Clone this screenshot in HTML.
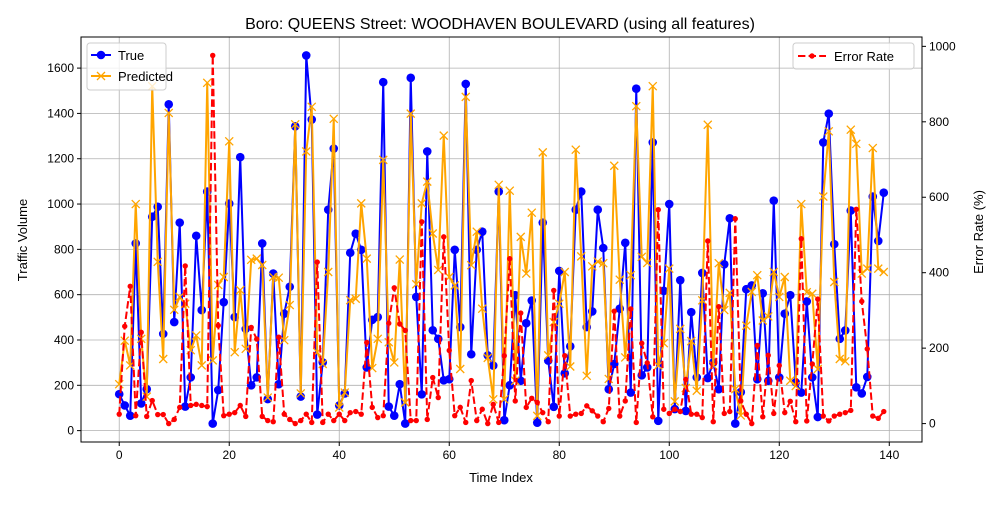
<!DOCTYPE html>
<html><head><meta charset="utf-8"><style>
body{margin:0;background:#fff}
svg text{font-family:"Liberation Sans","DejaVu Sans",sans-serif}
</style></head><body>
<svg id="chart" width="1000" height="500" xmlns="http://www.w3.org/2000/svg"></svg>
<script>
const trueVals=[161,111,66,826,120,183,944,988,427,1440,479,918,106,235,860,532,1055,31,179,567,1002,501,1207,
449,200,235,826,139,693,205,516,635,1343,150,1656,1373,71,301,975,1245,111,164,785,869,798,
279,489,501,1538,106,66,205,31,1557,590,160,1232,443,405,222,227,798,457,1530,337,798,878,332,
287,1055,46,200,598,220,474,574,35,918,309,105,705,253,372,975,1055,457,526,975,806,183,
294,538,829,168,1509,244,279,1272,43,617,1000,95,664,87,523,235,696,232,301,183,734,937,31,
170,624,641,227,606,220,1015,235,516,598,213,168,570,235,60,1272,1399,823,405,442,971,191,164,237,1033,837,1050];
const predVals=[205,397,288,1000,405,150,1520,745,316,1402,533,590,560,355,420,288,1535,310,643,678,1277,346,620,
361,754,759,731,146,678,675,399,554,1352,164,1232,1429,346,294,700,1376,102,168,576,582,1003,
759,276,405,1195,390,301,755,124,1399,646,1003,1099,870,709,1302,678,641,272,1473,730,878,538,321,
138,1085,138,1059,220,855,693,962,65,1228,332,479,560,700,283,1240,769,242,725,746,739,228,
1169,666,323,686,1432,767,740,1520,287,386,715,129,449,188,395,176,575,1350,287,739,532,608,183,
67,463,612,686,486,504,700,590,678,220,197,1000,611,604,272,1033,1321,656,316,306,1328,1266,693,715,1247,715,700];
const errVals=[25,258,364,21,242,19,61,24,24,0,11,43,418,48,51,48,45,976,260,21,25,29,48,
19,255,224,19,8,5,229,25,11,0,8,25,3,428,3,25,8,25,8,29,32,25,
215,43,16,21,266,360,264,247,8,8,535,11,122,69,495,194,21,43,3,114,8,38,0,
51,3,180,437,60,293,43,67,56,29,5,353,20,180,20,25,27,47,34,20,5,40,
298,20,60,304,3,213,161,18,567,38,27,38,32,117,25,25,16,484,5,310,27,32,543,
60,25,0,207,18,181,27,154,29,59,5,490,7,158,330,20,7,20,25,29,35,568,324,198,20,14,32];
const xTicks=[0,20,40,60,80,100,120,140];
const yTicks=[0,200,400,600,800,1000,1200,1400,1600];
const y2Ticks=[0,200,400,600,800,1000];

const svg=document.getElementById('chart');
const NS='http://www.w3.org/2000/svg';
const L=81,R=922,T=37,B=442;
function mk(tag,attrs,parent){const e=document.createElementNS(NS,tag);for(const k in attrs)e.setAttribute(k,attrs[k]);(parent||svg).appendChild(e);return e;}
function rng(arr){const mn=Math.min(...arr),mx=Math.max(...arr),m=(mx-mn)*0.05;return [mn-m,mx+m];}
const n=trueVals.length;
const xr=[-(n-1)*0.05,(n-1)*1.05];
const yr=rng(trueVals.concat(predVals));
const y2r=rng(errVals);
const sx=v=>L+(v-xr[0])/(xr[1]-xr[0])*(R-L);
const sy=v=>B-(v-yr[0])/(yr[1]-yr[0])*(B-T);
const sy2=v=>B-(v-y2r[0])/(y2r[1]-y2r[0])*(B-T);

const grid=mk('g',{});


xTicks.forEach(t=>{mk('line',{x1:sx(t),x2:sx(t),y1:T,y2:B,stroke:'#b0b0b0','stroke-width':0.8},grid);});
yTicks.forEach(t=>{mk('line',{x1:L,x2:R,y1:sy(t),y2:sy(t),stroke:'#b0b0b0','stroke-width':0.8},grid);});

function series(vals,scale,color,name,dash){
  const g=mk('g',{});
  
  
  const pts=vals.map((v,i)=>sx(i).toFixed(2)+','+scale(v).toFixed(2)).join(' ');
  const a={points:pts,fill:'none',stroke:color,'stroke-width':2,'stroke-linejoin':'round'};
  if(dash)a['stroke-dasharray']='7.4,3.2';
  mk('polyline',a,g);
  return g;
}
const gT=series(trueVals,sy,'#0000ff','true-series');
trueVals.forEach((v,i)=>{const c=mk('circle',{cx:sx(i),cy:sy(v),r:4.3,fill:'#0000ff'},gT);

});
const gP=series(predVals,sy,'#ffa500','predicted-series');
predVals.forEach((v,i)=>{const x=sx(i),y=sy(v),d=4;
const p=mk('path',{d:`M${x-d},${y-d}L${x+d},${y+d}M${x-d},${y+d}L${x+d},${y-d}`,stroke:'#ffa500','stroke-width':1.3},gP);

});
const gE=series(errVals,sy2,'#ff0000','error-rate-series',true);
errVals.forEach((v,i)=>{const c=mk('circle',{cx:sx(i),cy:sy2(v),r:2.7,fill:'#ff0000'},gE);

});

const fr=mk('rect',{x:L,y:T,width:R-L,height:B-T,fill:'none',stroke:'#000','stroke-width':1});



const ax=mk('g',{'font-size':12,fill:'#000'});


xTicks.forEach(t=>{mk('line',{x1:sx(t),x2:sx(t),y1:B,y2:B+4,stroke:'#000'},ax);
const tx=mk('text',{x:sx(t),y:B+17,'text-anchor':'middle'},ax);tx.textContent=t;

});
yTicks.forEach(t=>{mk('line',{x1:L-4,x2:L,y1:sy(t),y2:sy(t),stroke:'#000'},ax);
const tx=mk('text',{x:L-7,y:sy(t)+4,'text-anchor':'end'},ax);tx.textContent=t;

});
y2Ticks.forEach(t=>{mk('line',{x1:R,x2:R+4,y1:sy2(t),y2:sy2(t),stroke:'#000'},ax);
const tx=mk('text',{x:R+7,y:sy2(t)+4,'text-anchor':'start'},ax);tx.textContent=t;

});
</script>
<svg style="position:absolute;left:0;top:0" width="1000" height="500" xmlns="http://www.w3.org/2000/svg">
<text x="500" y="29" text-anchor="middle" font-size="16" font-family="Liberation Sans, sans-serif">Boro: QUEENS Street: WOODHAVEN BOULEVARD (using all features)</text>
<text x="501" y="482" text-anchor="middle" font-size="13" font-family="Liberation Sans, sans-serif">Time Index</text>
<text transform="translate(27,240) rotate(-90)" text-anchor="middle" font-size="13" font-family="Liberation Sans, sans-serif">Traffic Volume</text>
<text transform="translate(983,232) rotate(-90)" text-anchor="middle" font-size="13" font-family="Liberation Sans, sans-serif">Error Rate (%)</text>
<g>
<rect x="87" y="43" width="79" height="47" rx="3" fill="#fff" fill-opacity="0.8" stroke="#ccc"/>
<g><line x1="91" x2="111" y1="55" y2="55" stroke="#0000ff" stroke-width="2"/><circle cx="101" cy="55" r="4.3" fill="#0000ff"/><text x="118" y="60" font-size="13" font-family="Liberation Sans, sans-serif">True</text></g>
<g><line x1="91" x2="111" y1="76" y2="76" stroke="#ffa500" stroke-width="2"/><path d="M97,72L105,80M97,80L105,72" stroke="#ffa500" stroke-width="1.3"/><text x="118" y="81" font-size="13" font-family="Liberation Sans, sans-serif">Predicted</text></g>
</g>
<g>
<rect x="793" y="43" width="121" height="26" rx="3" fill="#fff" fill-opacity="0.8" stroke="#ccc"/>
<g><line x1="798" x2="826" y1="56" y2="56" stroke="#ff0000" stroke-width="2" stroke-dasharray="7.4,3.2"/><circle cx="812" cy="56" r="2.7" fill="#ff0000"/><text x="834" y="61" font-size="13" font-family="Liberation Sans, sans-serif">Error Rate</text></g>
</g>
</svg>
</body></html>
